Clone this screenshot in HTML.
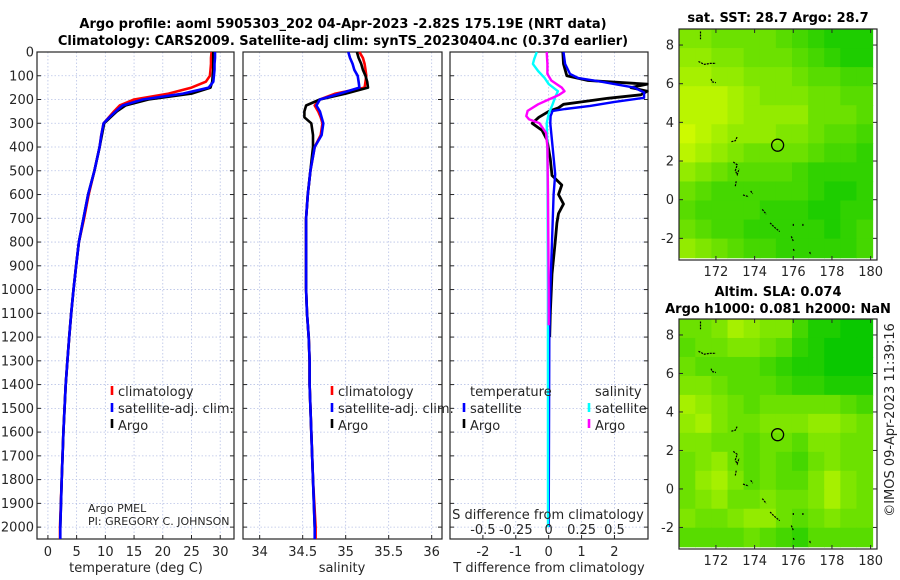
<!DOCTYPE html>
<html><head><meta charset="utf-8"><style>
html,body{margin:0;padding:0;background:#fff;width:900px;height:580px;overflow:hidden}
svg{display:block;font-family:"DejaVu Sans","Liberation Sans",sans-serif}
</style></head><body>
<svg id="fig" width="900" height="580" viewBox="0 0 900 580" xmlns="http://www.w3.org/2000/svg">
<text x="343" y="28" text-anchor="middle" font-size="13" font-weight="bold" fill="#000">Argo profile: aoml 5905303_202 04-Apr-2023 -2.82S 175.19E (NRT data)</text>
<text x="343" y="45" text-anchor="middle" font-size="13" font-weight="bold" fill="#000">Climatology: CARS2009. Satellite-adj clim: synTS_20230404.nc (0.37d earlier)</text>
<text x="778" y="22" text-anchor="middle" font-size="13" font-weight="bold" fill="#000">sat. SST: 28.7 Argo: 28.7</text>
<text x="778" y="296" text-anchor="middle" font-size="13" font-weight="bold" fill="#000">Altim. SLA: 0.074</text>
<text x="778" y="313" text-anchor="middle" font-size="13" font-weight="bold" fill="#000">Argo h1000: 0.081 h2000: NaN</text>
<text transform="translate(894,420) rotate(-90)" text-anchor="middle" font-size="13" fill="#262626">©IMOS 09-Apr-2023 11:39:16</text>
<g id="g"></g>
</svg>
<script>
// ---- profile data ----
const depthP = [0,25,50,75,100,125,150,175,200,225,250,275,300,350,400,500,600,700,800,900,1000,1100,1200,1300,1400,1600,1800,2000];
const tempArgo = [28.8,28.8,28.8,28.8,28.7,28.6,28.3,25,17.5,13.5,12.0,10.9,9.8,9.4,9.0,8.1,7.0,6.2,5.4,4.9,4.45,4.05,3.7,3.4,3.1,2.7,2.4,2.15];
const depthClim = [0,25,50,75,100,125,150,175,200,225,250,275,300,350,400,500,600,700,800,900,1000,1100,1200,1300,1400,1600,1800,2000,2050];
const tempClim = [28.5,28.4,28.4,28.3,28.2,27.5,25,21,15,12.5,11.5,10.6,9.7,9.3,9.0,8.1,7.1,6.3,5.4,4.9,4.45,4.05,3.7,3.4,3.1,2.7,2.4,2.1,2.1];
const tempSat = [29.1,29.1,29.0,29.0,28.9,28.8,28.0,23.5,16.5,13,11.8,10.7,9.7,9.3,9.0,8.1,7.0,6.2,5.4,4.9,4.45,4.05,3.7,3.4,3.1,2.7,2.4,2.15,2.15];
const salArgo = [35.13,35.15,35.18,35.2,35.23,35.25,35.26,35.0,34.70,34.54,34.52,34.52,34.6,34.62,34.62,34.59,34.56,34.54,34.54,34.54,34.54,34.55,34.57,34.58,34.58,34.6,34.62,34.64];
const salClim = [35.16,35.2,35.22,35.23,35.24,35.23,35.22,34.88,34.70,34.64,34.68,34.71,34.73,34.71,34.64,34.59,34.56,34.54,34.54,34.54,34.54,34.55,34.57,34.58,34.58,34.6,34.62,34.65,34.65];
const salSat = [35.03,35.05,35.08,35.1,35.14,35.15,35.16,34.93,34.70,34.66,34.7,34.72,34.74,34.72,34.64,34.59,34.56,34.54,34.54,34.54,34.54,34.55,34.57,34.58,34.58,34.6,34.62,34.64,34.64];
const tdArgoDepth = [0,50,100,120,135,150,165,180,195,210,220,235,250,275,300,330,370,450,520,560,600,640,680,720,800,935,1100,1200];
const tdArgo = [0.43,0.45,0.55,1.2,3.0,2.5,3.0,2.8,1.8,1.0,0.45,0.3,0.0,-0.3,-0.5,-0.2,-0.05,0.05,0.1,0.4,0.3,0.45,0.3,0.25,0.2,0.1,0.05,0.03];
const tdSatDepth = [0,50,92,110,125,135,150,170,193,210,227,240,248,270,300,400,515,600,800,1000,1200,2000];
const tdSat = [0.45,0.5,0.65,0.9,1.6,2.0,2.6,2.9,2.9,2.0,1.26,0.5,0.12,0.06,0.05,0.12,0.2,0.15,0.1,0.05,0.02,0.0];
const sdSatDepth = [0,30,50,80,110,135,165,190,220,260,300,400,600,1000,2000];
const sdSat = [-0.09,-0.11,-0.12,-0.08,-0.03,0.0,0.07,0.05,0.03,0.0,-0.015,-0.01,-0.008,-0.006,-0.005];
const sdArgoDepth = [0,50,92,120,135,150,165,180,200,220,248,270,283,300,340,400,600,1000,1150];
const sdArgo = [-0.015,-0.01,-0.01,0.02,0.06,0.1,0.12,0.08,0.0,-0.08,-0.16,-0.17,-0.15,-0.07,-0.02,-0.01,-0.005,0.0,0.0];
const depthTicks = [0,100,200,300,400,500,600,700,800,900,1000,1100,1200,1300,1400,1500,1600,1700,1800,1900,2000];
const tempTicks = [0,5,10,15,20,25,30];
const salTicks = [34,34.5,35,35.5,36];
const tdTicks = [-2,-1,0,1,2];
const sdTicks = [-0.5,-0.25,0,0.25,0.5];
const sdTickLabels = ["-0.5","-0.25","0","0.25","0.5"];
// ---- map data (rows north->south, cols west->east) ----
const mapLonEdges = [170.1,180.1];
const mapLatEdges = [8.83,-3.0];
const sstGrid = [
[6,6,5,5,5,5,4,3,2,1,1,1],
[7,7,6,6,5,5,5,4,3,2,1,1],
[8,8,7,7,6,6,6,5,4,4,3,3],
[9,9,9,8,7,6,6,6,5,5,4,4],
[9,9,9,8,7,7,7,7,5,5,5,4],
[10,9,8,7,7,7,6,6,5,4,4,3],
[9,8,7,6,5,5,5,5,4,3,3,2],
[7,6,5,4,4,4,4,3,2,2,2,2],
[5,4,3,3,3,3,3,3,2,1,1,2],
[4,3,3,3,3,2,2,2,1,1,2,2],
[5,4,3,3,2,2,2,2,2,1,2,3],
[7,6,5,4,3,3,2,2,2,2,2,3]];
const slaGrid = [
[5,5,6,8,7,6,6,3,1,1,0,0],
[4,5,5,6,6,5,4,2,1,0,0,0],
[5,4,4,4,4,3,2,1,1,0,0,0],
[6,6,5,4,4,4,3,2,2,1,1,1],
[8,7,6,5,4,5,5,5,5,5,4,3],
[7,8,6,5,5,6,6,6,7,7,6,5],
[6,6,5,5,4,5,5,4,6,6,5,5],
[5,6,7,5,4,5,4,3,5,6,5,5],
[5,7,8,6,4,5,4,4,6,8,6,5],
[5,6,7,5,5,6,5,5,6,8,6,5],
[6,5,5,6,7,7,5,4,5,6,5,5],
[4,4,4,4,5,4,3,2,4,4,4,4]];
const coastLines = [
[[171.2,8.7],[171.2,8.3]],
[[171.1,7.15],[171.4,7.0],[171.7,7.05],[172,7.05]],
[[171.75,6.25],[171.8,6.1],[172.0,6.05]],
[[172.8,3.0],[173.0,3.05],[173.1,3.25]],
[[172.9,1.95],[173.1,1.8],[173.0,1.5],[173.1,1.3],[173.2,1.6]],
[[173.05,0.95],[173.0,0.7]],
[[173.4,0.25],[173.7,0.15]],
[[173.8,0.45],[173.9,0.3]],
[[174.4,-0.5],[174.6,-0.75]],
[[174.8,-1.2],[175.0,-1.4],[175.3,-1.65]],
[[175.9,-1.9],[176.0,-2.15]],
[[176.0,-1.25],[176.0,-1.4]],
[[176.5,-1.25],[176.5,-1.4]],
[[176.0,-2.55],[176.05,-2.65]],
[[176.85,-2.7],[176.9,-2.85]]];
const argoLon = 175.19, argoLat = 2.82;
const mapLonTicks = [172,174,176,178,180];
const mapLatTicks = [-2,0,2,4,6,8];

const NS = "http://www.w3.org/2000/svg";
const G = document.getElementById('g');
function el(tag, attrs, parent){const e=document.createElementNS(NS,tag);for(const k in attrs)e.setAttribute(k,attrs[k]);(parent||G).appendChild(e);return e;}
function lin(d0,d1,r0,r1){return v=>r0+(v-d0)*(r1-r0)/(d1-d0);}
const yD = lin(0,2050,52,539);
const GRID = "#b8c2e6";

function panel(name,x0,x1,dom,ticks,labels,yLabels){
  const xs = lin(dom[0],dom[1],x0,x1);
  for(const t of ticks){
    const l=el('line',{x1:xs(t),x2:xs(t),y1:52,y2:539,stroke:GRID,'stroke-width':0.8,'stroke-dasharray':'1.5,2'});
    
    
    const tk=el('line',{x1:xs(t),x2:xs(t),y1:539,y2:535,stroke:'#262626','stroke-width':1});
    
    
  }
  for(const d of depthTicks){
    const l=el('line',{x1:x0,x2:x1,y1:yD(d),y2:yD(d),stroke:GRID,'stroke-width':0.8,'stroke-dasharray':'1.5,2'});
    
    
    const a=el('line',{x1:x0,x2:x0+4,y1:yD(d),y2:yD(d),stroke:'#262626'});
    
    
    const b=el('line',{x1:x1-4,x2:x1,y1:yD(d),y2:yD(d),stroke:'#262626'});
    
    
    if(yLabels){
      const t=el('text',{x:x0-3,y:yD(d)+4.5,'text-anchor':'end','font-size':13,fill:'#262626'});
      t.textContent=d;
      
      
    }
  }
  ticks.forEach((t,i)=>{
    const tx=el('text',{x:xs(t),y:556,'text-anchor':'middle','font-size':13,fill:'#262626'});
    tx.textContent=labels[i];
    
    
  });
  const r=el('rect',{x:x0,y:52,width:x1-x0,height:487,fill:'none',stroke:'#262626','stroke-width':1.2});
  
  
  return xs;
}
function line(name,xs,vals,depths,color,w){
  const pts=vals.map((v,i)=>xs(v).toFixed(1)+','+yD(depths[i]).toFixed(1)).join(' ');
  const p=el('polyline',{points:pts,fill:'none',stroke:color,'stroke-width':w||2.6,'stroke-linejoin':'round'});
  
  
}
function txt(s,x,y,size,name,anchor){
  const t=el('text',{x:x,y:y,'font-size':size,fill:'#262626','text-anchor':anchor||'start'});
  t.textContent=s;
  
  
}
function legMark(x,y,color,name){
  const l=el('line',{x1:x,x2:x,y1:y-10,y2:y-1,stroke:color,'stroke-width':2.6});
  
  
}

// panel 1 temperature
const xT = panel('temp-panel',37,234,[-1.9,32.4],tempTicks,tempTicks.map(String),true);
line('temp-climatology-line',xT,tempClim,depthClim,'#ff0000');
line('temp-argo-line',xT,tempArgo,depthP,'#000000');
line('temp-satellite-line',xT,tempSat,depthClim,'#0000ff');
txt('temperature (deg C)',136,572,13,'temp-axis-title','middle');
legMark(112,396,'#ff0000','legend-climatology-marker'); txt('climatology',118,396,13,'legend-climatology');
legMark(112,413,'#0000ff','legend-satellite-marker'); txt('satellite-adj. clim.',118,413,13,'legend-satellite-adj');
legMark(112,429,'#000000','legend-argo-marker'); txt('Argo',118,430,13,'legend-argo');
txt('Argo PMEL',88,512,11,'pi-institution');
txt('PI: GREGORY C. JOHNSON',88,525,11,'pi-name');

// panel 2 salinity
const xS = panel('sal-panel',243,442,[33.806,36.12],salTicks,['34','34.5','35','35.5','36'],false);
line('sal-climatology-line',xS,salClim,depthClim,'#ff0000');
line('sal-argo-line',xS,salArgo,depthP,'#000000');
line('sal-satellite-line',xS,salSat,depthClim,'#0000ff');
txt('salinity',342,572,13,'sal-axis-title','middle');
legMark(332,396,'#ff0000','legend2-climatology-marker'); txt('climatology',338,396,13,'legend2-climatology');
legMark(332,413,'#0000ff','legend2-satellite-marker'); txt('satellite-adj. clim.',338,413,13,'legend2-satellite-adj');
legMark(332,429,'#000000','legend2-argo-marker'); txt('Argo',338,430,13,'legend2-argo');

// panel 3 differences
const xTD = panel('diff-panel',450,648,[-3.0,3.02],tdTicks,tdTicks.map(String),false);
const xSD = lin(-0.75,0.755,450,648);
line('tdiff-argo-line',xTD,tdArgo,tdArgoDepth,'#000000',2.8);
line('tdiff-satellite-line',xTD,tdSat,tdSatDepth,'#0000ff',2.4);
line('sdiff-satellite-line',xSD,sdSat,sdSatDepth,'#00ffff',2.4);
line('sdiff-argo-line',xSD,sdArgo,sdArgoDepth,'#ff00ff',2.4);
txt('T difference from climatology',549,572,13,'tdiff-axis-title','middle');
txt('S difference from climatology',548,519,13,'sdiff-axis-title','middle');
sdTicks.forEach((t,i)=>{txt(sdTickLabels[i],xSD(t),534,13,'sdiff-tick-label','middle');});
txt('temperature',470,396,13,'legend3-temperature-header');
legMark(464,413,'#0000ff','legend3-tsat-marker'); txt('satellite',470,413,13,'legend3-tsat');
legMark(464,429,'#000000','legend3-targo-marker'); txt('Argo',470,430,13,'legend3-targo');
txt('salinity',595,396,13,'legend3-salinity-header');
legMark(589,413,'#00ffff','legend3-ssat-marker'); txt('satellite',595,413,13,'legend3-ssat');
legMark(589,429,'#ff00ff','legend3-sargo-marker'); txt('Argo',595,430,13,'legend3-sargo');

// maps
function colorOf(v){const t=v/10;const r=Math.round(10+t*195),g=Math.round(200+t*50),b=0;return 'rgb('+r+','+g+','+b+')';}
function drawMap(name,grid,top,bottom){
  const x0=679,x1=877;
  const xm=lin(170.09,180.33,x0,x1);
  const ym=lin(8.83,-3.12,top,bottom);
  const nr=grid.length,nc=grid[0].length;
  const dLon=(mapLonEdges[1]-mapLonEdges[0])/nc, dLat=(mapLatEdges[0]-mapLatEdges[1])/nr;
  for(let r=0;r<nr;r++)for(let c=0;c<nc;c++){
    const lo=mapLonEdges[0]+c*dLon, la=mapLatEdges[0]-r*dLat;
    const cell=el('rect',{x:xm(lo).toFixed(2),y:ym(la).toFixed(2),width:(xm(lo+dLon)-xm(lo)+0.6).toFixed(2),height:(ym(la-dLat)-ym(la)+0.6).toFixed(2),fill:colorOf(grid[r][c])});
    
    
  }
  for(const seg of coastLines){
    const p=el('polyline',{points:seg.map(q=>xm(q[0]).toFixed(1)+','+ym(q[1]).toFixed(1)).join(' '),fill:'none',stroke:'#000','stroke-width':1.2,'stroke-dasharray':'2,1'});
    
    
  }
  const c=el('circle',{cx:xm(argoLon),cy:ym(argoLat),r:6,fill:'none',stroke:'#000','stroke-width':1.3});
  
  
  const fr=el('rect',{x:x0,y:top,width:x1-x0,height:bottom-top,fill:'none',stroke:'#262626','stroke-width':1.2});
  
  
  for(const t of mapLonTicks){
    const a=el('line',{x1:xm(t),x2:xm(t),y1:bottom,y2:bottom-4,stroke:'#262626'});
    
    
    const b=el('line',{x1:xm(t),x2:xm(t),y1:top,y2:top+4,stroke:'#262626'});
    
    
    txt(String(t),xm(t),bottom+16,13,name+'-lon-label','middle');
  }
  for(const t of mapLatTicks){
    const a=el('line',{x1:x0,x2:x0+4,y1:ym(t),y2:ym(t),stroke:'#262626'});
    
    
    const b=el('line',{x1:x1-4,x2:x1,y1:ym(t),y2:ym(t),stroke:'#262626'});
    
    
    txt(String(t),x0-5,ym(t)+4.5,13,name+'-lat-label','end');
  }
}
drawMap('sst-map',sstGrid,29,260);
drawMap('sla-map',slaGrid,319,549);
</script>
</body></html>
